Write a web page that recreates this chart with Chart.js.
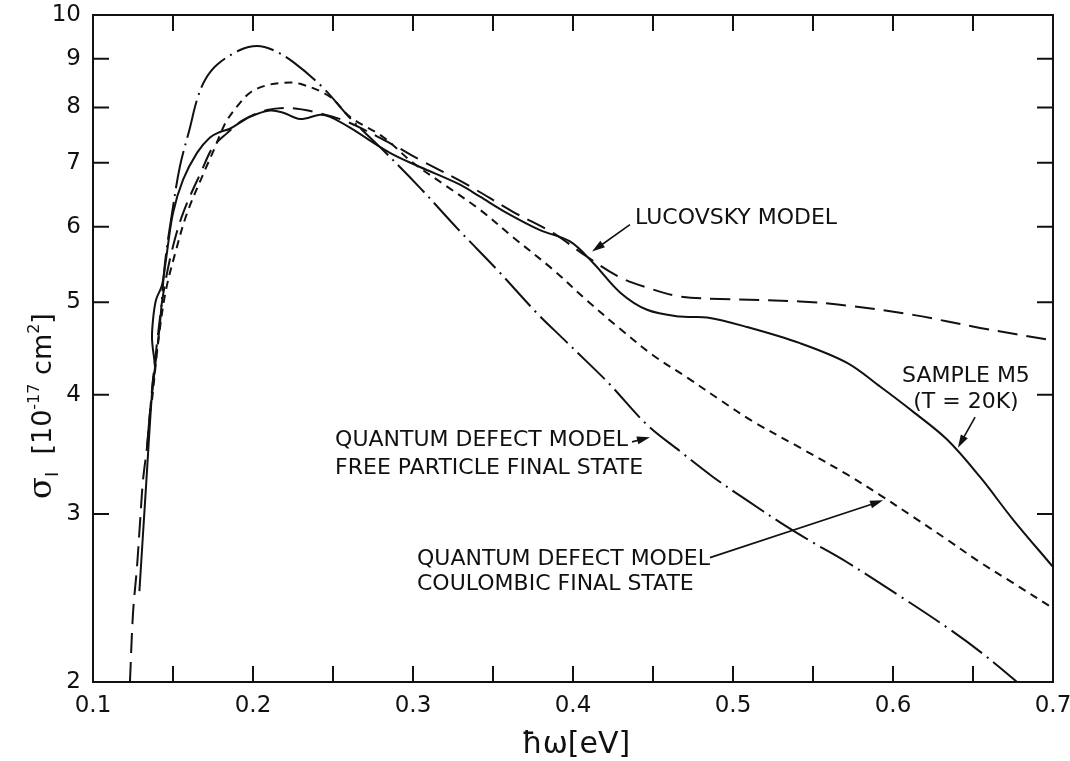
<!DOCTYPE html>
<html>
<head>
<meta charset="utf-8">
<script src="https://cdn.jsdelivr.net/npm/chart.js@4.4.1/dist/chart.umd.min.js"></script>
<style>
  html, body { margin: 0; background: #fff; }
</style>
</head>
<body>
<canvas id="chart" width="1070" height="761"></canvas>
<script>
// photon energy (eV) and cross section (10^-17 cm^2)
const sampleX = [0.129, 0.133, 0.1375, 0.1388, 0.1369, 0.1375, 0.1394, 0.1431, 0.1456, 0.150, 0.1563,
  0.165, 0.1731, 0.1794, 0.1856, 0.1981, 0.2106, 0.2188, 0.2294, 0.2419, 0.2481, 0.2606, 0.2856,
  0.3044, 0.3294, 0.3419, 0.3588, 0.3794, 0.3981, 0.4125, 0.4294, 0.4463, 0.4669, 0.4838, 0.5088,
  0.5419, 0.5713, 0.5919, 0.6125, 0.6338, 0.6544, 0.675, 0.700];
const sampleY = [2.49, 3.18, 4.15, 4.25, 4.57, 4.79, 5.03, 5.21, 5.54, 6.20, 6.72,
  7.17, 7.44, 7.54, 7.60, 7.82, 7.94, 7.90, 7.78, 7.86, 7.82, 7.62, 7.17,
  6.93, 6.64, 6.45, 6.20, 5.95, 5.79, 5.50, 5.12, 4.91, 4.83, 4.82, 4.71,
  4.53, 4.32, 4.08, 3.84, 3.59, 3.28, 2.96, 2.64];

const lucovskyX = [0.1231, 0.125, 0.1275, 0.1294, 0.1313, 0.1338, 0.1356, 0.1375, 0.1406, 0.1438,
  0.1494, 0.1563, 0.1681, 0.175, 0.1838, 0.1938, 0.2088, 0.2231, 0.2375, 0.2588, 0.2875, 0.3044,
  0.3338, 0.3625, 0.3875, 0.4088, 0.4294, 0.4463, 0.4669, 0.4919, 0.5419, 0.5713, 0.6125, 0.6544, 0.700];
const lucovskyY = [2.00, 2.36, 2.64, 2.94, 3.26, 3.53, 3.83, 4.15, 4.62, 5.09,
  5.67, 6.20, 6.88, 7.27, 7.52, 7.76, 7.95, 7.99, 7.92, 7.73, 7.31, 7.05,
  6.64, 6.22, 5.91, 5.58, 5.31, 5.18, 5.07, 5.04, 5.01, 4.96, 4.85, 4.70, 4.56];

const coulombX = [0.1369, 0.1413, 0.1456, 0.1519, 0.1588, 0.170, 0.1763, 0.1794, 0.1838, 0.1919,
  0.1981, 0.2075, 0.2188, 0.2294, 0.2481, 0.2606, 0.2813, 0.300, 0.3213, 0.3419, 0.3625, 0.3875,
  0.4088, 0.4294, 0.450, 0.4713, 0.4919, 0.5125, 0.5419, 0.5713, 0.5919, 0.6125, 0.6338, 0.6544,
  0.675, 0.700];
const coulombY = [3.95, 4.62, 5.15, 5.67, 6.20, 6.88, 7.27, 7.49, 7.76, 8.09,
  8.29, 8.43, 8.49, 8.47, 8.21, 7.82, 7.45, 7.00, 6.61, 6.25, 5.85, 5.41,
  5.02, 4.69, 4.40, 4.17, 3.95, 3.75, 3.52, 3.30, 3.14, 2.98, 2.82, 2.67,
  2.54, 2.39];

const freeX = [0.1338, 0.1356, 0.1388, 0.1419, 0.145, 0.1494, 0.1544, 0.1606, 0.165, 0.170, 0.1775,
  0.1919, 0.2025, 0.2125, 0.225, 0.2438, 0.2606, 0.2794, 0.3044, 0.3275, 0.3525, 0.3775, 0.3938,
  0.4088, 0.4231, 0.4463, 0.4669, 0.4875, 0.5088, 0.5294, 0.550, 0.5713, 0.6044, 0.6356, 0.6563, 0.6775];
const freeY = [3.53, 3.83, 4.28, 4.76, 5.50, 6.20, 6.95, 7.62, 8.15, 8.55, 8.87,
  9.19, 9.28, 9.19, 8.93, 8.39, 7.80, 7.27, 6.59, 5.98, 5.41, 4.87, 4.58,
  4.33, 4.10, 3.72, 3.49, 3.28, 3.10, 2.94, 2.80, 2.67, 2.46, 2.27, 2.14, 2.00];

const yTickLabels = [2, 3, 4, 5, 6, 7, 8, 9, 10];
const xMinorTicks = [0.15, 0.2, 0.25, 0.3, 0.35, 0.4, 0.45, 0.5, 0.55, 0.6, 0.65];
const yInnerTicks = [3, 4, 5, 6, 7, 8, 9];

// labels and pointer arrows, placed in data units
const notes = [
  { lines: ['LUCOVSKY MODEL'], x: 0.4388, y: [6.13], align: 'left' },
  { lines: ['SAMPLE M5', '(T = 20K)'], x: 0.6456, y: [4.18, 3.93], align: 'center' },
  { lines: ['QUANTUM DEFECT MODEL', 'FREE PARTICLE FINAL STATE'], x: 0.2513, y: [3.58, 3.35], align: 'left' },
  { lines: ['QUANTUM DEFECT MODEL', 'COULOMBIC FINAL STATE'], x: 0.3025, y: [2.69, 2.53], align: 'left' }
];
const arrows = [
  { from: [0.4356, 6.03], to: [0.4119, 5.65] },
  { from: [0.6513, 3.79], to: [0.6406, 3.52] },
  { from: [0.4369, 3.57], to: [0.4481, 3.61] },
  { from: [0.4856, 2.70], to: [0.5938, 3.10] }
];

function pts(xs, ys) {
  return xs.map((x, i) => ({ x: x, y: ys[i] }));
}

const framePlugin = {
  id: 'frame',
  afterDraw(chart) {
    const { ctx, chartArea: a, scales } = chart;
    const x = scales.x, y = scales.y;
    ctx.save();
    ctx.strokeStyle = '#111';
    ctx.lineWidth = 2;
    ctx.strokeRect(a.left, a.top, a.right - a.left, a.bottom - a.top);
    ctx.beginPath();
    xMinorTicks.forEach(v => {
      const px = x.getPixelForValue(v);
      ctx.moveTo(px, a.bottom); ctx.lineTo(px, a.bottom - 16);
      ctx.moveTo(px, a.top); ctx.lineTo(px, a.top + 16);
    });
    yInnerTicks.forEach(v => {
      const py = y.getPixelForValue(v);
      ctx.moveTo(a.left, py); ctx.lineTo(a.left + 16, py);
      ctx.moveTo(a.right, py); ctx.lineTo(a.right - 16, py);
    });
    ctx.stroke();

    // y axis title: sigma_I [10^-17 cm^2]
    ctx.fillStyle = '#111';
    ctx.translate(41, 406);
    ctx.rotate(-Math.PI / 2);
    const parts = [
      ['σ', '32px "DejaVu Serif"', 0],
      ['I', '18px "DejaVu Sans"', 7],
      ['  [10', '27px "DejaVu Sans"', 0],
      ['-17', '16px "DejaVu Sans"', -12],
      [' cm', '27px "DejaVu Sans"', 0],
      ['2', '16px "DejaVu Sans"', -12],
      [']', '27px "DejaVu Sans"', 0]
    ];
    let total = 0;
    parts.forEach(p => { ctx.font = p[1]; total += ctx.measureText(p[0]).width; });
    let cx = -total / 2;
    ctx.textBaseline = 'alphabetic';
    parts.forEach(p => {
      ctx.font = p[1];
      ctx.fillText(p[0], cx, 10 + p[2]);
      cx += ctx.measureText(p[0]).width;
    });
    ctx.restore();

    ctx.save();
    ctx.fillStyle = '#111';
    ctx.font = '30px "DejaVu Sans"';
    ctx.textAlign = 'center';
    ctx.textBaseline = 'middle';
    ctx.fillText('ħω[eV]', 576, 745);
    ctx.restore();
  }
};

const notePlugin = {
  id: 'notes',
  afterDatasetsDraw(chart) {
    const { ctx, scales } = chart;
    const x = scales.x, y = scales.y;
    ctx.save();
    ctx.fillStyle = '#111';
    ctx.strokeStyle = '#111';
    ctx.font = '22px "DejaVu Sans"';
    ctx.textBaseline = 'middle';
    notes.forEach(n => {
      ctx.textAlign = n.align;
      n.lines.forEach((t, i) => {
        ctx.fillText(t, x.getPixelForValue(n.x), y.getPixelForValue(n.y[i]));
      });
    });
    ctx.lineWidth = 1.6;
    arrows.forEach(ar => {
      const x0 = x.getPixelForValue(ar.from[0]), y0 = y.getPixelForValue(ar.from[1]);
      const x1 = x.getPixelForValue(ar.to[0]), y1 = y.getPixelForValue(ar.to[1]);
      const ang = Math.atan2(y1 - y0, x1 - x0);
      ctx.beginPath();
      ctx.moveTo(x0, y0);
      ctx.lineTo(x1 - 8 * Math.cos(ang), y1 - 8 * Math.sin(ang));
      ctx.stroke();
      ctx.beginPath();
      ctx.moveTo(x1, y1);
      ctx.lineTo(x1 - 13 * Math.cos(ang) + 4 * Math.sin(ang), y1 - 13 * Math.sin(ang) - 4 * Math.cos(ang));
      ctx.lineTo(x1 - 13 * Math.cos(ang) - 4 * Math.sin(ang), y1 - 13 * Math.sin(ang) + 4 * Math.cos(ang));
      ctx.closePath();
      ctx.fill();
    });
    ctx.restore();
  }
};

const line = (data, dash) => ({
  data: data,
  borderColor: '#111',
  borderWidth: 2,
  borderDash: dash,
  pointRadius: 0,
  tension: 0.35,
  fill: false
});

const ctx = document.getElementById('chart').getContext('2d');
const chart = new Chart(ctx, {
  type: 'line',
  data: {
    datasets: [
      line(pts(sampleX, sampleY), []),
      line(pts(lucovskyX, lucovskyY), [20, 9]),
      line(pts(coulombX, coulombY), [8, 6]),
      line(pts(freeX, freeY), [38, 6, 2, 6])
    ]
  },
  options: {
    responsive: false,
    animation: false,
    layout: { padding: { top: 15, right: 17, left: 0, bottom: 0 } },
    plugins: { legend: { display: false }, tooltip: { enabled: false } },
    scales: {
      x: {
        type: 'linear',
        min: 0.1,
        max: 0.7,
        grid: { display: false, drawTicks: false },
        border: { display: false },
        ticks: {
          stepSize: 0.1,
          padding: 10,
          color: '#111',
          font: { family: 'DejaVu Sans', size: 23 },
          callback: v => v.toFixed(1)
        },
        afterFit: s => {
          s.height = 79;
          s.paddingLeft = 0;
          s.paddingRight = 0;
        }
      },
      y: {
        type: 'logarithmic',
        min: 2,
        max: 10,
        grid: { display: false, drawTicks: false },
        border: { display: false },
        afterBuildTicks: s => { s.ticks = yTickLabels.map(v => ({ value: v })); },
        ticks: {
          padding: 12,
          color: '#111',
          font: { family: 'DejaVu Sans', size: 23 },
          callback: v => String(v)
        },
        afterFit: s => {
          s.width = 93;
          s.paddingTop = 0;
          s.paddingBottom = 0;
        }
      }
    }
  },
  plugins: [framePlugin, notePlugin]
});
</script>
</body>
</html>
